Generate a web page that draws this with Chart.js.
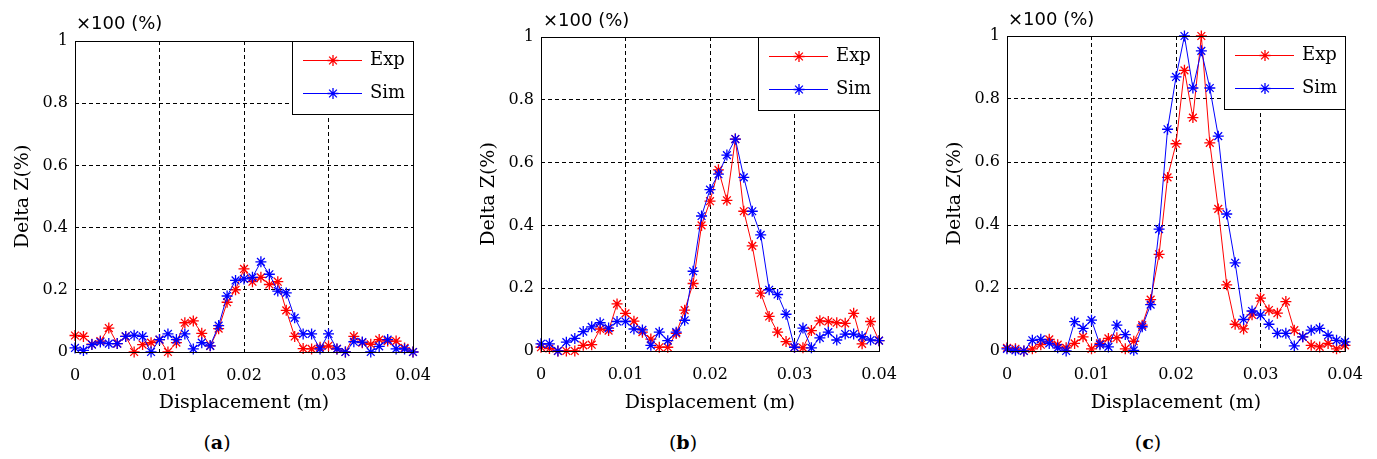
<!DOCTYPE html>
<html>
<head>
<meta charset="utf-8">
<script src="https://cdn.jsdelivr.net/npm/chart.js@4.4.0/dist/chart.umd.min.js"></script>
<style>
body{margin:0;background:#fff;width:1377px;height:459px;overflow:hidden;position:relative;font-family:'DejaVu Serif',serif;color:#000;}
canvas{position:absolute;top:0;}
.unit{position:absolute;font-family:'DejaVu Sans',sans-serif;font-size:18px;line-height:20px;white-space:nowrap;}
.cap{position:absolute;top:430px;width:100px;text-align:center;font-size:19px;line-height:24px;}
</style>
</head>
<body>
<canvas id="chartA" width="440" height="420" style="left:0px"></canvas>
<canvas id="chartB" width="440" height="420" style="left:466px"></canvas>
<canvas id="chartC" width="440" height="420" style="left:932px"></canvas>
<div class="unit" style="left:76px;top:13px">×100 (%)</div>
<div class="unit" style="left:543px;top:10px">×100 (%)</div>
<div class="unit" style="left:1008px;top:9px">×100 (%)</div>
<div class="cap" style="left:167px">(<b>a</b>)</div>
<div class="cap" style="left:633px">(<b>b</b>)</div>
<div class="cap" style="left:1098px">(<b>c</b>)</div>
<script>
// displacement (m) of each sample
const displacement=[0,0.001,0.002,0.003,0.004,0.005,0.006,0.007,0.008,0.009,
  0.010,0.011,0.012,0.013,0.014,0.015,0.016,0.017,0.018,0.019,
  0.020,0.021,0.022,0.023,0.024,0.025,0.026,0.027,0.028,0.029,
  0.030,0.031,0.032,0.033,0.034,0.035,0.036,0.037,0.038,0.039,0.040];
const xTickLabels=['0','0.01','0.02','0.03','0.04'];
const yTickLabels=['0','0.2','0.4','0.6','0.8','1'];
const seriesNames=['Exp','Sim'];

// (a)
const expA=[0.053,0.05,0.025,0.035,0.077,0.027,0.05,0.0,0.024,0.03,
  0.04,0.0,0.03,0.094,0.1,0.06,0.02,0.075,0.16,0.2,
  0.267,0.226,0.24,0.217,0.226,0.134,0.05,0.011,0.01,0.015,
  0.02,0.01,0.0,0.05,0.03,0.025,0.04,0.035,0.035,0.013,0.0];
const simA=[0.013,0.005,0.024,0.032,0.027,0.027,0.05,0.054,0.05,0.0,
  0.04,0.058,0.04,0.058,0.01,0.03,0.02,0.085,0.18,0.23,
  0.235,0.24,0.29,0.25,0.196,0.19,0.11,0.058,0.058,0.01,
  0.058,0.01,0.0,0.033,0.032,0.0,0.018,0.04,0.01,0.01,0.0];
// (b)
const expB=[0.012,0.008,0.0,0.0,0.0,0.018,0.02,0.07,0.065,0.15,
  0.12,0.095,0.06,0.038,0.012,0.012,0.056,0.13,0.215,0.4,
  0.477,0.577,0.48,0.675,0.445,0.335,0.184,0.11,0.06,0.03,
  0.012,0.01,0.065,0.096,0.094,0.09,0.088,0.12,0.023,0.094,0.033];
const simB=[0.023,0.023,0.0,0.028,0.04,0.062,0.077,0.09,0.073,0.094,
  0.094,0.07,0.067,0.018,0.06,0.033,0.06,0.098,0.254,0.43,
  0.514,0.563,0.624,0.675,0.553,0.445,0.37,0.195,0.18,0.117,
  0.012,0.073,0.01,0.042,0.06,0.035,0.054,0.054,0.046,0.035,0.033];
// (c)
const expC=[0.01,0.007,0.0,0.007,0.02,0.037,0.02,0.01,0.024,0.045,
  0.007,0.024,0.04,0.042,0.007,0.031,0.082,0.163,0.307,0.551,
  0.658,0.891,0.741,1.0,0.661,0.451,0.21,0.085,0.07,0.115,
  0.168,0.13,0.12,0.157,0.066,0.045,0.018,0.013,0.024,0.007,0.018];
const simC=[0.007,0.002,0.0,0.034,0.037,0.024,0.01,0.0,0.093,0.072,
  0.098,0.02,0.013,0.082,0.052,0.002,0.077,0.147,0.387,0.704,
  0.87,1.0,0.835,0.953,0.835,0.682,0.435,0.28,0.1,0.127,
  0.114,0.085,0.056,0.056,0.016,0.045,0.066,0.072,0.05,0.034,0.029];

Chart.defaults.font.family='"DejaVu Serif", serif';
Chart.defaults.color='#000';

function drawStar(ctx,x,y,r){
  ctx.beginPath();
  for(let k=0;k<4;k++){
    const a=k*Math.PI/4;
    ctx.moveTo(x-r*Math.cos(a),y-r*Math.sin(a));
    ctx.lineTo(x+r*Math.cos(a),y+r*Math.sin(a));
  }
  ctx.stroke();
}

// solid frame round the axes + legend box in the top right corner
const frameLegend={
  id:'frameLegend',
  afterDraw(chart){
    const {ctx,chartArea:{left,top,right,bottom}}=chart;
    const L=Math.round(left),T=Math.round(top),R=Math.round(right),B=Math.round(bottom);
    ctx.save();
    ctx.lineWidth=1; ctx.strokeStyle='#000';
    ctx.strokeRect(L+0.5,T+0.5,R-L,B-T);
    const bw=121,bh=73,bx=R-bw,by=T;
    ctx.fillStyle='#fff'; ctx.fillRect(bx,by,bw,bh);
    ctx.strokeStyle='#000'; ctx.strokeRect(bx+0.5,by+0.5,bw,bh);
    chart.data.datasets.forEach((ds,i)=>{
      const y=by+19+i*33+0.5;
      ctx.strokeStyle=ds.borderColor; ctx.lineWidth=1;
      ctx.beginPath(); ctx.moveTo(bx+11,y); ctx.lineTo(bx+70,y); ctx.stroke();
      ctx.lineWidth=1.3;
      drawStar(ctx,bx+41,y,5.5);
      ctx.fillStyle='#000'; ctx.font='18px "DejaVu Serif"';
      ctx.textBaseline='middle'; ctx.textAlign='left';
      ctx.fillText(ds.label,bx+78,y);
    });
    ctx.restore();
  }
};

function makeChart(id,exp,sim,plotTop,plotBottom){
  const H=420;
  const series=[exp,sim], colors=['#ff0000','#0000ff'];
  return new Chart(document.getElementById(id),{
    type:'line',
    data:{datasets:series.map((vals,s)=>({
      label:seriesNames[s],
      data:displacement.map((x,i)=>({x:x,y:vals[i]})),
      borderColor:colors[s], backgroundColor:colors[s],
      borderWidth:1, pointStyle:'star', pointRadius:5.5,
      pointBorderWidth:1.3, pointBorderColor:colors[s],
      tension:0, clip:false, order:1-s
    }))},
    options:{
      responsive:false, animation:false, devicePixelRatio:1,
      layout:{padding:{left:0,right:27,top:plotTop,bottom:0}},
      plugins:{legend:{display:false},tooltip:{enabled:false}},
      scales:{
        x:{type:'linear',min:0,max:0.04,
          ticks:{stepSize:0.01,padding:14,font:{size:16},callback:(v,i)=>xTickLabels[i]},
          grid:{color:'#000',lineWidth:1,drawTicks:false},
          border:{display:false,dash:[4,3]},
          title:{display:true,text:'Displacement (m)',font:{size:19},padding:{top:0,bottom:6}},
          afterFit(s){s.height=H-plotBottom;s.paddingLeft=0;s.paddingRight=0;}
        },
        y:{min:0,max:1,
          ticks:{stepSize:0.2,padding:7,font:{size:16},callback:(v,i)=>yTickLabels[i]},
          grid:{color:'#000',lineWidth:1,drawTicks:false},
          border:{display:false,dash:[4,3]},
          title:{display:true,text:'Delta Z(%)',font:{size:19},padding:{top:12,bottom:0}},
          afterFit(s){s.width=75;}
        }
      }
    },
    plugins:[frameLegend]
  });
}

makeChart('chartA',expA,simA,41,352);
makeChart('chartB',expB,simB,37,351);
makeChart('chartC',expC,simC,36,351);
</script>
</body>
</html>
